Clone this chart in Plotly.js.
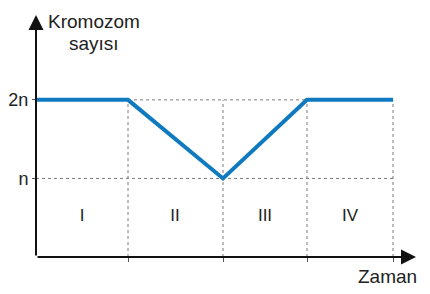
<!DOCTYPE html>
<html>
<head>
<meta charset="utf-8">
<script src="https://cdn.plot.ly/plotly-3.0.1.min.js"></script>
<style>html,body{margin:0;padding:0;background:#fff;}#chart{width:430px;height:294px;}</style>
</head>
<body>
<div id="chart"></div>
<script>
// Time points (phase boundaries) and chromosome number (in units of n)
var timePoints = [0, 9.2, 18.7, 27.1, 35.7];
var chromosomeCount = [2, 2, 1, 2, 2];
var phaseLabels = ["I", "II", "III", "IV"];
var phaseCenters = [4.6, 13.9, 22.9, 31.4];
var phaseLabelY = [0.51, 0.51, 0.51, 0.51];
var yTickVals = [1, 2];
var yTickText = ["n", "2n"];
var boundaryTicks = [9.2, 18.7, 27.1, 35.7];

var xMax = 38, yMax = 3.08;
var gridColor = "#7a7a7a";
var FONT = "Liberation Sans, Arial, sans-serif";
var traces = [];

// pixel -> paper helpers (plot area: x 36..416, y 15..257)
function px(x) { return (x - 36) / 380; }
function py(y) { return (257 - y) / 242; }

// vertical dotted guide lines at phase boundaries
boundaryTicks.forEach(function (t) {
  traces.push({x: [t, t], y: [0, 2], mode: "lines", hoverinfo: "skip", showlegend: false,
    line: {color: gridColor, width: 1, dash: "dot"}, cliponaxis: false});
});
// horizontal dotted guide lines at n and 2n
traces.push({x: [0, boundaryTicks[3]], y: [1, 1], mode: "lines", showlegend: false,
  line: {color: gridColor, width: 1, dash: "dot"}, cliponaxis: false});
traces.push({x: [boundaryTicks[0], boundaryTicks[3]], y: [2, 2], mode: "lines", showlegend: false,
  line: {color: gridColor, width: 1, dash: "dot"}, cliponaxis: false});

// main line
traces.push({x: timePoints, y: chromosomeCount, mode: "lines", showlegend: false,
  line: {color: "#0f7ac0", width: 4}, cliponaxis: false});

// phase labels
traces.push({x: phaseCenters, y: phaseLabelY, mode: "text", text: phaseLabels, showlegend: false,
  textfont: {family: FONT, size: 17, color: "#222"}, cliponaxis: false});

var layout = {
  width: 430, height: 294,
  margin: {l: 36, r: 14, t: 15, b: 37},
  paper_bgcolor: "#fff", plot_bgcolor: "#fff",
  showlegend: false,
  xaxis: {range: [0, xMax], showgrid: false, zeroline: false, showline: false,
    tickmode: "array", tickvals: boundaryTicks, ticktext: ["", "", "", ""],
    ticks: "outside", ticklen: 4, tickwidth: 1, tickcolor: "#555", fixedrange: true},
  yaxis: {range: [0, yMax], showgrid: false, zeroline: false, showline: false,
    tickmode: "array", tickvals: yTickVals, ticktext: yTickText,
    ticks: "outside", ticklen: 3, tickwidth: 1, tickcolor: "#555",
    tickfont: {family: FONT, size: 18, color: "#222"}, fixedrange: true},
  annotations: [
    // y axis with arrow
    {x: 0, y: yMax, xref: "x", yref: "y", text: "", showarrow: true, ax: 0, ay: 242,
      arrowhead: 2, arrowsize: 1.5, arrowwidth: 2, arrowcolor: "#111", standoff: 0},
    // x axis with arrow
    {x: xMax, y: 0, xref: "x", yref: "y", text: "", showarrow: true, ax: -380, ay: 0,
      arrowhead: 2, arrowsize: 1.5, arrowwidth: 2, arrowcolor: "#111", standoff: 0},
    {x: px(93.5), y: py(21.5), xref: "paper", yref: "paper", xanchor: "center", yanchor: "middle",
      text: "Kromozom", showarrow: false, font: {family: FONT, size: 19, color: "#222"}},
    {x: px(93.5), y: py(43.5), xref: "paper", yref: "paper", xanchor: "center", yanchor: "middle",
      text: "sayısı", showarrow: false, font: {family: FONT, size: 19, color: "#222"}},
    {x: px(419), y: py(276), xref: "paper", yref: "paper", xanchor: "right", yanchor: "middle",
      text: "Zaman", showarrow: false, font: {family: FONT, size: 19, color: "#222"}}
  ]
};

Plotly.newPlot("chart", traces, layout, {displayModeBar: false, staticPlot: true});
</script>
</body>
</html>
